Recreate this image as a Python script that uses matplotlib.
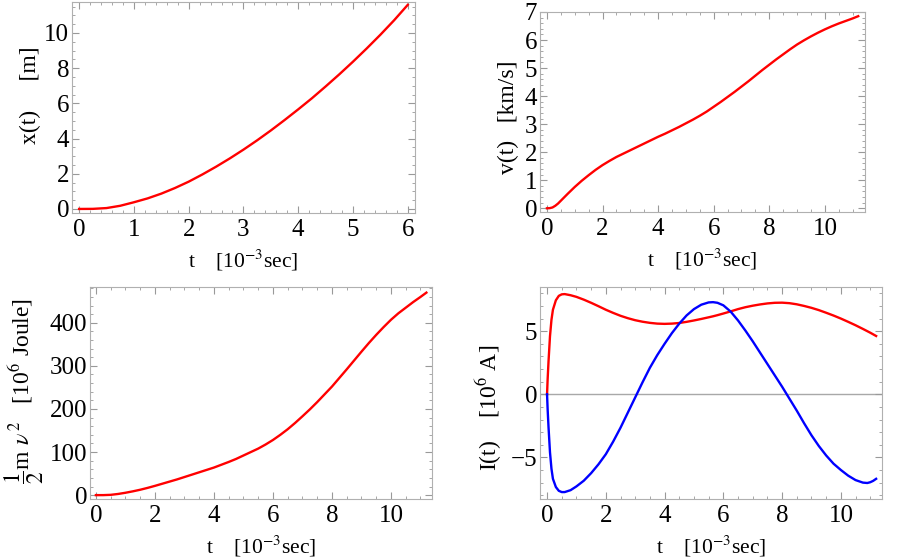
import matplotlib
matplotlib.use("Agg")
import matplotlib.pyplot as plt
from matplotlib.ticker import MultipleLocator

plt.rcParams['font.family'] = ['Liberation Serif', 'DejaVu Serif']
plt.rcParams['mathtext.fontset'] = 'stix'

# x(t) [m]
t_x = [0, 0.25, 0.5, 0.75, 1, 1.25, 1.5, 1.75, 2, 2.25, 2.5, 2.75, 3, 3.25,
       3.5, 3.75, 4, 4.25, 4.5, 4.75, 5, 5.25, 5.5, 5.75, 6]
x_m = [0, 0.005, 0.05, 0.18, 0.38, 0.6, 0.87, 1.19, 1.55, 1.96, 2.4, 2.87,
       3.37, 3.9, 4.46, 5.05, 5.66, 6.29, 6.96, 7.65, 8.37, 9.12, 9.9, 10.72,
       11.6]

# v(t) [km/s]
t_v = [0, 0.1, 0.2, 0.3, 0.4, 0.5, 0.75, 1, 1.25, 1.5, 1.75, 2, 2.25, 2.5,
       2.75, 3, 3.25, 3.5, 3.75, 4, 4.25, 4.5, 4.75, 5, 5.25, 5.5, 5.75, 6,
       6.25, 6.5, 6.75, 7, 7.25, 7.5, 7.75, 8, 8.25, 8.5, 8.75, 9, 9.25, 9.5,
       9.75, 10, 10.25, 10.5, 10.75, 11, 11.2]
v_kms = [0, 0.005, 0.03, 0.09, 0.17, 0.27, 0.52, 0.76, 0.98, 1.18, 1.37,
         1.54, 1.69, 1.83, 1.95, 2.07, 2.19, 2.31, 2.43, 2.55, 2.66, 2.78,
         2.9, 3.03, 3.16, 3.3, 3.45, 3.62, 3.79, 3.97, 4.15, 4.34, 4.53, 4.73,
         4.93, 5.12, 5.31, 5.49, 5.67, 5.84, 5.99, 6.13, 6.26, 6.38, 6.49,
         6.59, 6.68, 6.77, 6.85]

# kinetic energy [10^6 Joule]
t_e = [0, 0.25, 0.5, 0.75, 1, 1.25, 1.5, 1.75, 2, 2.25, 2.5, 2.75, 3, 3.25,
       3.5, 3.75, 4, 4.25, 4.5, 4.75, 5, 5.25, 5.5, 5.75, 6, 6.25, 6.5, 6.75,
       7, 7.25, 7.5, 7.75, 8, 8.25, 8.5, 8.75, 9, 9.25, 9.5, 9.75, 10, 10.25,
       10.5, 10.75, 11, 11.2]
ke = [0, 0.05, 0.7, 2.7, 5.5, 8.8, 12.5, 16.8, 21.5, 26.5, 31.5, 36.5, 42,
      47.5, 53, 58.5, 64, 70.5, 77, 84, 92, 100, 108, 117.5, 128, 140, 153,
      167.5, 183, 199, 216, 234, 252, 272, 292, 312.5, 333, 353, 372, 390,
      407, 422, 435, 448, 460, 470]

# current I(t) [10^6 A]
t_i = [0, 0.02, 0.05, 0.1, 0.15, 0.2, 0.3, 0.4, 0.5, 0.6, 0.8, 1, 1.25, 1.5,
       1.75, 2, 2.25, 2.5, 2.75, 3, 3.25, 3.5, 3.75, 4, 4.25, 4.5, 4.75, 5,
       5.25, 5.5, 5.65, 5.8, 6, 6.25, 6.5, 6.75, 7, 7.25, 7.5, 7.75, 8, 8.25,
       8.5, 8.75, 9, 9.25, 9.5, 9.75, 10, 10.25, 10.5, 10.75, 10.9, 11, 11.1,
       11.2]
i_red = [0, 1.2, 2.6, 4.6, 5.9, 6.7, 7.45, 7.8, 7.92, 7.94, 7.85, 7.72, 7.5,
         7.25, 6.98, 6.7, 6.45, 6.22, 6.03, 5.87, 5.75, 5.66, 5.6, 5.58, 5.6,
         5.65, 5.74, 5.85, 5.97, 6.1, 6.18, 6.27, 6.4, 6.57, 6.75, 6.9, 7.02,
         7.12, 7.2, 7.25, 7.26, 7.22, 7.13, 7.0, 6.85, 6.67, 6.46, 6.24, 6.0,
         5.74, 5.47, 5.18, 5.0, 4.88, 4.75, 4.62]
i_blue = [0, -1.2, -2.6, -4.6, -5.9, -6.7, -7.35, -7.65, -7.75, -7.75, -7.6,
          -7.3, -6.85, -6.25, -5.55, -4.75, -3.75, -2.65, -1.45, -0.25, 0.95,
          2.1, 3.1, 4.0, 4.85, 5.6, 6.25, 6.75, 7.1, 7.28, 7.3, 7.25, 7.05,
          6.55, 5.85, 5.05, 4.2, 3.3, 2.4, 1.5, 0.6, -0.35, -1.3, -2.3,
          -3.25, -4.1, -4.85, -5.5, -6.0, -6.45, -6.8, -7.0, -7.03, -6.97,
          -6.86, -6.7]

xlabel = r't    [10$^{-3}$sec]'
frame = '#b0b0b0'

fig = plt.figure(figsize=(9, 5.57), dpi=100)

def setup(ax, xlim, ylim, xmaj, xmin, ymaj, ymin, ylabel, lab_xy):
    ax.set_xlim(*xlim)
    ax.set_ylim(*ylim)
    ax.xaxis.set_major_locator(MultipleLocator(xmaj))
    ax.xaxis.set_minor_locator(MultipleLocator(xmin))
    ax.yaxis.set_major_locator(MultipleLocator(ymaj))
    ax.yaxis.set_minor_locator(MultipleLocator(ymin))
    for s in ax.spines.values():
        s.set_color(frame)
    ax.tick_params(which='both', direction='in', top=True, right=True,
                   color='#999999', labelsize=18)
    ax.tick_params(axis='x', pad=4)
    ax.tick_params(axis='y', pad=2)
    ax.tick_params(which='major', length=5, width=0.8)
    ax.tick_params(which='minor', length=2.5, width=0.6)
    ax.set_xlabel(xlabel, fontsize=15.5, labelpad=5)
    ax.set_ylabel(ylabel, fontsize=17)
    ax.yaxis.set_label_coords(*lab_xy)

ax1 = fig.add_axes([0.08, 0.6176, 0.381, 0.3788])
ax1.plot(t_x, x_m, color='#ff0000', lw=1.7)
setup(ax1, (-0.13, 6.13), (-0.23, 11.76), 1, 0.2, 2, 0.5,
      'x(t)     [m]', (-0.09, 0.56))

ax2 = fig.add_axes([0.6, 0.619, 0.361, 0.3595])
ax2.plot(t_v, v_kms, color='#ff0000', lw=1.7)
setup(ax2, (-0.25, 11.44), (-0.14, 7.0), 2, 0.5, 1, 0.2,
      'v(t)   [km/s]', (-0.065, 0.475))

ax3 = fig.add_axes([0.1, 0.1041, 0.38, 0.3806])
ax3.plot(t_e, ke, color='#ff0000', lw=1.7)
setup(ax3, (-0.2, 11.39), (-9, 483), 2, 0.5, 100, 20,
      r'$\dfrac{1}{2}$m $\nu^{\,2}$   [10$^{6}$ Joule]', (-0.13, 0.51))

ax4 = fig.add_axes([0.6, 0.1041, 0.38, 0.3806])
ax4.axhline(0, color='#a8a8a8', lw=1.0, zorder=1)
ax4.plot(t_i, i_red, color='#ff0000', lw=1.7)
ax4.plot(t_i, i_blue, color='#0000ff', lw=1.7)
setup(ax4, (-0.24, 11.4), (-8.3, 8.5), 2, 0.5, 5, 1,
      r'I(t)    [10$^{6}$ A]', (-0.105, 0.43))

fig.savefig('out.png', dpi=100)
